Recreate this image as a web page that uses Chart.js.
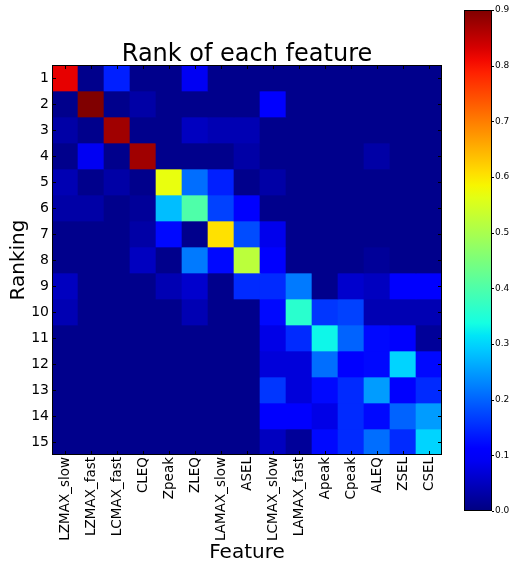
<!DOCTYPE html>
<html>
<head>
<meta charset="utf-8">
<script src="https://cdn.jsdelivr.net/npm/chart.js@4.4.1/dist/chart.umd.min.js"></script>
<style>
  body { margin: 0; background: #fff; }
  #wrap { position: relative; width: 511px; height: 567px; }
  #main { position: absolute; left: 0; top: 0; }
  #bar { position: absolute; left: 440px; top: 0; }
</style>
</head>
<body>
<div id="wrap">
  <canvas id="main" width="511" height="567"></canvas>
  <canvas id="bar" width="71" height="567"></canvas>
</div>
<script>
const features = ["LZMAX_slow", "LZMAX_fast", "LCMAX_fast", "CLEQ", "Zpeak", "ZLEQ", "LAMAX_slow", "ASEL",
  "LCMAX_slow", "LAMAX_fast", "Apeak", "Cpeak", "ALEQ", "ZSEL", "CSEL"];
const ranks = [1, 2, 3, 4, 5, 6, 7, 8, 9, 10, 11, 12, 13, 14, 15];
const colorTicks = [0, 0.1, 0.2, 0.3, 0.4, 0.5, 0.6, 0.7, 0.8, 0.9];

// share of runs in which each feature got this rank (one array per rank)
const rank1 = [0.82, 0.01, 0.14, 0.01, 0.01, 0.09, 0.01, 0.01, 0.01, 0.01, 0.01, 0.01, 0.01, 0.01, 0.01];
const rank2 = [0.01, 0.90, 0.01, 0.03, 0.01, 0.01, 0.01, 0.01, 0.10, 0.01, 0.01, 0.01, 0.01, 0.01, 0.01];
const rank3 = [0.03, 0.01, 0.875, 0.01, 0.01, 0.05, 0.04, 0.04, 0.01, 0.01, 0.01, 0.01, 0.01, 0.01, 0.01];
const rank4 = [0.01, 0.09, 0.01, 0.875, 0.01, 0.01, 0.01, 0.03, 0.01, 0.01, 0.01, 0.01, 0.03, 0.01, 0.01];
const rank5 = [0.04, 0.01, 0.03, 0.01, 0.57, 0.21, 0.14, 0.01, 0.03, 0.01, 0.01, 0.01, 0.01, 0.01, 0.01];
const rank6 = [0.03, 0.03, 0.01, 0.02, 0.28, 0.40, 0.17, 0.11, 0.01, 0.01, 0.01, 0.01, 0.01, 0.01, 0.01];
const rank7 = [0.01, 0.01, 0.01, 0.03, 0.12, 0.01, 0.605, 0.18, 0.085, 0.01, 0.01, 0.01, 0.01, 0.01, 0.01];
const rank8 = [0.01, 0.01, 0.01, 0.05, 0.01, 0.22, 0.12, 0.52, 0.11, 0.01, 0.01, 0.01, 0.02, 0.01, 0.01];
const rank9 = [0.05, 0.01, 0.01, 0.01, 0.04, 0.06, 0.01, 0.15, 0.15, 0.22, 0.01, 0.06, 0.05, 0.11, 0.11];
const rank10 = [0.04, 0.01, 0.01, 0.01, 0.01, 0.04, 0.01, 0.01, 0.12, 0.36, 0.16, 0.17, 0.04, 0.04, 0.04];
const rank11 = [0.01, 0.01, 0.01, 0.01, 0.01, 0.01, 0.01, 0.01, 0.08, 0.15, 0.33, 0.20, 0.12, 0.10, 0.02];
const rank12 = [0.01, 0.01, 0.01, 0.01, 0.01, 0.01, 0.01, 0.01, 0.07, 0.07, 0.21, 0.10, 0.12, 0.30, 0.12];
const rank13 = [0.01, 0.01, 0.01, 0.01, 0.01, 0.01, 0.01, 0.01, 0.16, 0.07, 0.12, 0.15, 0.25, 0.10, 0.15];
const rank14 = [0.01, 0.01, 0.01, 0.01, 0.01, 0.01, 0.01, 0.01, 0.11, 0.11, 0.08, 0.15, 0.12, 0.20, 0.25];
const rank15 = [0.01, 0.01, 0.01, 0.01, 0.01, 0.01, 0.01, 0.01, 0.05, 0.02, 0.12, 0.15, 0.21, 0.15, 0.30];
const shares = [rank1, rank2, rank3, rank4, rank5, rank6, rank7, rank8, rank9, rank10, rank11, rank12, rank13, rank14, rank15];

const vmin = 0, vmax = 0.9;

// matplotlib "jet" segment data
const jetR = [[0, 0], [0.35, 0], [0.66, 1], [0.89, 1], [1, 0.5]];
const jetG = [[0, 0], [0.125, 0], [0.375, 1], [0.64, 1], [0.91, 0], [1, 0]];
const jetB = [[0, 0.5], [0.11, 1], [0.34, 1], [0.65, 0], [1, 0]];

const seg = (pts, t) => {
  for (let i = 1; i < pts.length; i++) {
    if (t <= pts[i][0]) {
      const [x0, y0] = pts[i - 1], [x1, y1] = pts[i];
      return y0 + (y1 - y0) * (t - x0) / (x1 - x0);
    }
  }
  return pts[pts.length - 1][1];
};

const jet = (v) => {
  const t = Math.min(1, Math.max(0, (v - vmin) / (vmax - vmin)));
  const c = [jetR, jetG, jetB].map((p) => Math.round(seg(p, t) * 255));
  return `rgb(${c[0]}, ${c[1]}, ${c[2]})`;
};

const font = "'DejaVu Sans', sans-serif";

// black frame round the plot plus small tick marks, like the matplotlib original
const frame = {
  id: "frame",
  afterDraw(chart, args, opts) {
    const { ctx, chartArea: a, scales } = chart;
    ctx.save();
    ctx.strokeStyle = "#000";
    ctx.lineWidth = 1;
    const len = opts.tick || 4;
    const xs = scales.x, ys = scales.y;
    ctx.beginPath();
    if (xs.options.display !== false) {
      xs.ticks.forEach((t, i) => {
        const px = Math.round(xs.getPixelForTick(i)) + 0.5;
        ctx.moveTo(px, a.bottom); ctx.lineTo(px, a.bottom - len);
        ctx.moveTo(px, a.top); ctx.lineTo(px, a.top + len);
      });
    }
    ys.ticks.forEach((t, i) => {
      const py = Math.round(ys.getPixelForTick(i)) + 0.5;
      if (opts.bothSides) {
        ctx.moveTo(a.left, py); ctx.lineTo(a.left + len, py);
      }
      ctx.moveTo(a.right, py); ctx.lineTo(a.right + (opts.outside ? len : -len), py);
    });
    ctx.stroke();
    ctx.strokeRect(Math.round(a.left) + 0.5, Math.round(a.top) + 0.5,
      Math.round(a.right - a.left) - 1, Math.round(a.bottom - a.top) - 1);
    ctx.restore();
  }
};

const datasets = shares.map((row, r) => ({
  label: "Rank " + ranks[r],
  data: row.map(() => [ranks[r] - 0.5, ranks[r] + 0.5]),
  backgroundColor: row.map(jet),
  borderWidth: 0,
  barPercentage: 1,
  categoryPercentage: 1,
  grouped: false
}));

new Chart(document.querySelector("#main"), {
  type: "bar",
  data: { labels: features, datasets: datasets },
  plugins: [frame],
  options: {
    responsive: false,
    animation: false,
    layout: { padding: { right: 69, bottom: 0 } },
    plugins: {
      legend: { display: false },
      tooltip: { enabled: false },
      frame: { tick: 4, bothSides: true },
      title: {
        display: true,
        text: "Rank of each feature",
        fullSize: false,
        color: "#000",
        font: { family: font, size: 24, weight: "normal", lineHeight: 0.8 },
        padding: { top: 45, bottom: 0.8 }
      }
    },
    scales: {
      x: {
        type: "category",
        grid: { display: false, drawTicks: false },
        border: { display: false },
        ticks: {
          color: "#000",
          font: { family: font, size: 13.5 },
          minRotation: 90,
          maxRotation: 90,
          autoSkip: false,
          padding: 2
        },
        title: {
          display: true,
          text: "Feature",
          color: "#000",
          font: { family: font, size: 20 },
          padding: { top: 0, bottom: 2 }
        },
        afterFit: (s) => { s.height = 112; }
      },
      y: {
        type: "linear",
        reverse: true,
        min: 0.5,
        max: 15.5,
        afterBuildTicks: (s) => { s.ticks = ranks.map((v) => ({ value: v })); },
        grid: { display: false, drawTicks: false },
        border: { display: false },
        ticks: {
          color: "#000",
          font: { family: font, size: 14 },
          padding: 3
        },
        title: {
          display: true,
          text: "Ranking",
          color: "#000",
          font: { family: font, size: 20 },
          padding: { top: 7, bottom: 0 }
        },
        afterFit: (s) => { s.width = 52; }
      }
    }
  }
});

// colour bar
new Chart(document.querySelector("#bar"), {
  type: "bar",
  data: {
    labels: [""],
    datasets: [{
      data: [[vmin, vmax]],
      backgroundColor: (c) => {
        const { chart } = c;
        const y = chart.scales.y;
        const y0 = y ? y.getPixelForValue(vmin) : NaN;
        const y1 = y ? y.getPixelForValue(vmax) : NaN;
        if (!isFinite(y0) || !isFinite(y1) || y0 === y1) return jet(vmin);
        const g = chart.ctx.createLinearGradient(0, y0, 0, y1);
        for (let i = 0; i <= 40; i++) g.addColorStop(i / 40, jet(vmin + (vmax - vmin) * i / 40));
        return g;
      },
      borderWidth: 0,
      barPercentage: 1,
      categoryPercentage: 1
    }]
  },
  plugins: [frame],
  options: {
    responsive: false,
    animation: false,
    layout: { padding: { left: 24, top: 10, bottom: 56, right: 0 } },
    plugins: {
      legend: { display: false },
      tooltip: { enabled: false },
      frame: { tick: 2, outside: true }
    },
    scales: {
      x: { display: false },
      y: {
        position: "right",
        min: vmin,
        max: vmax,
        afterBuildTicks: (s) => { s.ticks = colorTicks.map((v) => ({ value: v })); },
        grid: { display: false, drawTicks: false },
        border: { display: false },
        ticks: {
          color: "#000",
          font: { family: font, size: 9 },
          padding: 3,
          callback: (v) => Number(v).toFixed(1)
        },
        afterFit: (s) => { s.width = 19; }
      }
    }
  }
});
</script>
</body>
</html>
